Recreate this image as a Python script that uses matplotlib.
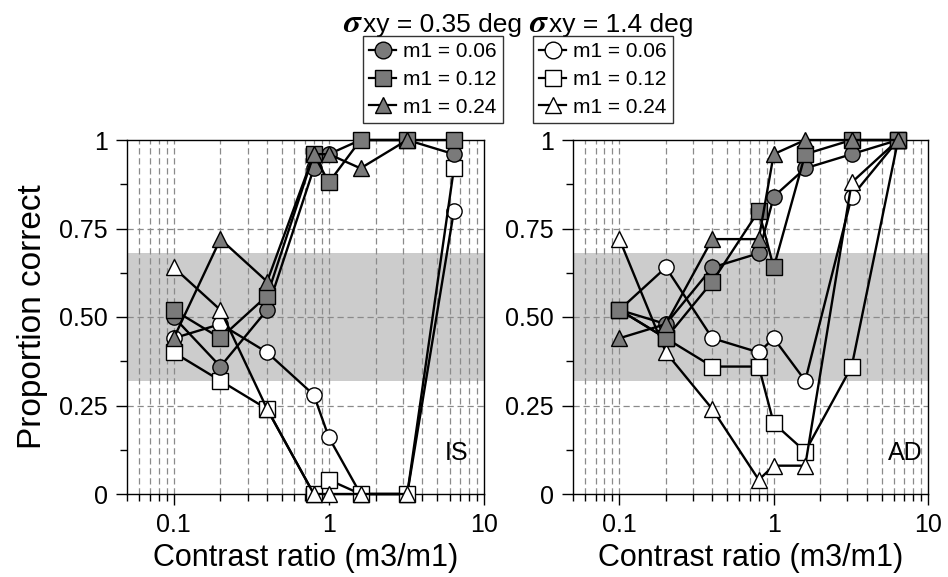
import matplotlib
matplotlib.use('Agg')
import matplotlib.pyplot as plt
import numpy as np
from matplotlib.ticker import FixedLocator, NullFormatter, FixedFormatter
from matplotlib.lines import Line2D

plt.rcParams['font.family'] = ['Liberation Sans', 'DejaVu Sans']

nan = np.nan
contrast = [0.1, 0.2, 0.4, 0.8, 1.0, 1.6, 3.2, 6.4]
m1_labels = ["m1 = 0.06", "m1 = 0.12", "m1 = 0.24"]

# Observer IS
is_s035_m006 = [0.50, 0.36, 0.52, 0.92, 0.96, 1.00, 1.00, 0.96]
is_s035_m012 = [0.52, 0.44, 0.56, 0.96, 0.88, 1.00, 1.00, 1.00]
is_s035_m024 = [0.44, 0.72, 0.60, 0.96, 0.96, 0.92, 1.00, nan]
is_s14_m006 = [0.44, 0.48, 0.40, 0.28, 0.16, 0.00, 0.00, 0.80]
is_s14_m012 = [0.40, 0.32, 0.24, 0.00, 0.04, 0.00, 0.00, 0.92]
is_s14_m024 = [0.64, 0.52, 0.24, 0.00, 0.00, 0.00, 0.00, nan]

# Observer AD
ad_s035_m006 = [0.52, 0.48, 0.64, 0.68, 0.84, 0.92, 0.96, 1.00]
ad_s035_m012 = [0.52, 0.44, 0.60, 0.80, 0.64, 0.96, 1.00, 1.00]
ad_s035_m024 = [0.44, 0.48, 0.72, 0.72, 0.96, 1.00, 1.00, 1.00]
ad_s14_m006 = [0.52, 0.64, 0.44, 0.40, 0.44, 0.32, 0.84, 1.00]
ad_s14_m012 = [0.52, 0.44, 0.36, 0.36, 0.20, 0.12, 0.36, 1.00]
ad_s14_m024 = [0.72, 0.40, 0.24, 0.04, 0.08, 0.08, 0.88, 1.00]

band_low, band_high = 0.318, 0.682

FILL = '#7a7a7a'
markers = ['o', 's', '^']
MS = 11

fig = plt.figure(figsize=(9.48, 5.77), dpi=100)
axL = fig.add_axes([127/948, 1-494/577, 357/948, 354/577])
axR = fig.add_axes([573/948, 1-494/577, 355/948, 354/577])

panels = [
    (axL, [is_s035_m006, is_s035_m012, is_s035_m024],
          [is_s14_m006, is_s14_m012, is_s14_m024], 'IS', 0.955),
    (axR, [ad_s035_m006, ad_s035_m012, ad_s035_m024],
          [ad_s14_m006, ad_s14_m012, ad_s14_m024], 'AD', 0.985),
]

minor_x = [v * 10.0**e for e in (-2, -1, 0) for v in range(2, 10) if 0.05 <= v * 10.0**e < 10]
grid_x = [v for v in minor_x if v > 0.05] + [0.1, 1.0]

for ax, small, large, name, tx in panels:
    ax.set_xscale('log')
    ax.set_xlim(0.05, 10)
    ax.set_ylim(0, 1)
    ax.axhspan(band_low, band_high, color='#cccccc', zorder=0, lw=0)
    for gx in grid_x:
        ax.axvline(gx, color='#8a8a8a', lw=0.9, ls=(0, (5, 3)), zorder=1)
    for gy in (0.25, 0.5, 0.75):
        ax.axhline(gy, color='#8a8a8a', lw=0.9, ls=(0, (5, 3)), zorder=1)
    z = 3
    for vals, mk in zip(large, markers):
        ax.plot(contrast, vals, color='black', lw=1.7, marker=mk, ms=MS,
                mfc='white', mec='black', mew=1.0, clip_on=False, zorder=z)
        z += 1
    for vals, mk in zip(small, markers):
        ax.plot(contrast, vals, color='black', lw=1.7, marker=mk, ms=MS,
                mfc=FILL, mec='black', mew=1.0, clip_on=False, zorder=z)
        z += 1
    ax.xaxis.set_major_locator(FixedLocator([0.1, 1, 10]))
    ax.xaxis.set_major_formatter(FixedFormatter(['0.1', '1', '10']))
    ax.xaxis.set_minor_locator(FixedLocator(minor_x))
    ax.xaxis.set_minor_formatter(NullFormatter())
    ax.yaxis.set_major_locator(FixedLocator([0, 0.25, 0.5, 0.75, 1]))
    ax.yaxis.set_major_formatter(FixedFormatter(['0', '0.25', '0.50', '0.75', '1']))
    ax.yaxis.set_minor_locator(FixedLocator([0.125, 0.375, 0.625, 0.875]))
    ax.tick_params(which='major', direction='out', length=8, width=1, labelsize=18, pad=6)
    ax.tick_params(which='minor', direction='out', length=5, width=1)
    for s in ax.spines.values():
        s.set_linewidth(1.0)
        s.set_color('black')
        s.set_zorder(2)
    ax.set_xlabel('Contrast ratio (m3/m1)', fontsize=22, labelpad=4)
    ax.text(tx, 0.095, name, transform=ax.transAxes, ha='right', va='baseline', fontsize=18)

axL.set_ylabel('Proportion correct', fontsize=24, labelpad=8)

# Legends
def make_handles(fc):
    return [Line2D([0], [0], color='black', lw=1.6, marker=mk, ms=12,
                   mfc=fc, mec='black', mew=1.0) for mk in markers]

legkw = dict(frameon=True, fancybox=False, fontsize=15, handlelength=1.3,
             handletextpad=0.35, borderpad=0.3, labelspacing=0.42, borderaxespad=0)
leg1 = fig.legend(make_handles(FILL), m1_labels, loc='upper center',
                  bbox_to_anchor=(433/948, 1-36/577), **legkw)
leg2 = fig.legend(make_handles('white'), m1_labels, loc='upper center',
                  bbox_to_anchor=(603/948, 1-36/577), **legkw)
for lg in (leg1, leg2):
    lg.get_frame().set_edgecolor('black')
    lg.get_frame().set_linewidth(1.0)

# Titles
fig.text(363/948, 1-32/577, r'$\boldsymbol{\sigma}$', fontsize=24, ha='right', va='baseline',
         math_fontfamily='stix')
fig.text(363/948, 1-32/577, 'xy = 0.35 deg', fontsize=19, ha='left', va='baseline')
fig.text(549/948, 1-32/577, r'$\boldsymbol{\sigma}$', fontsize=24, ha='right', va='baseline',
         math_fontfamily='stix')
fig.text(549/948, 1-32/577, 'xy = 1.4 deg', fontsize=19, ha='left', va='baseline')

fig.savefig('out.png', dpi=100)
